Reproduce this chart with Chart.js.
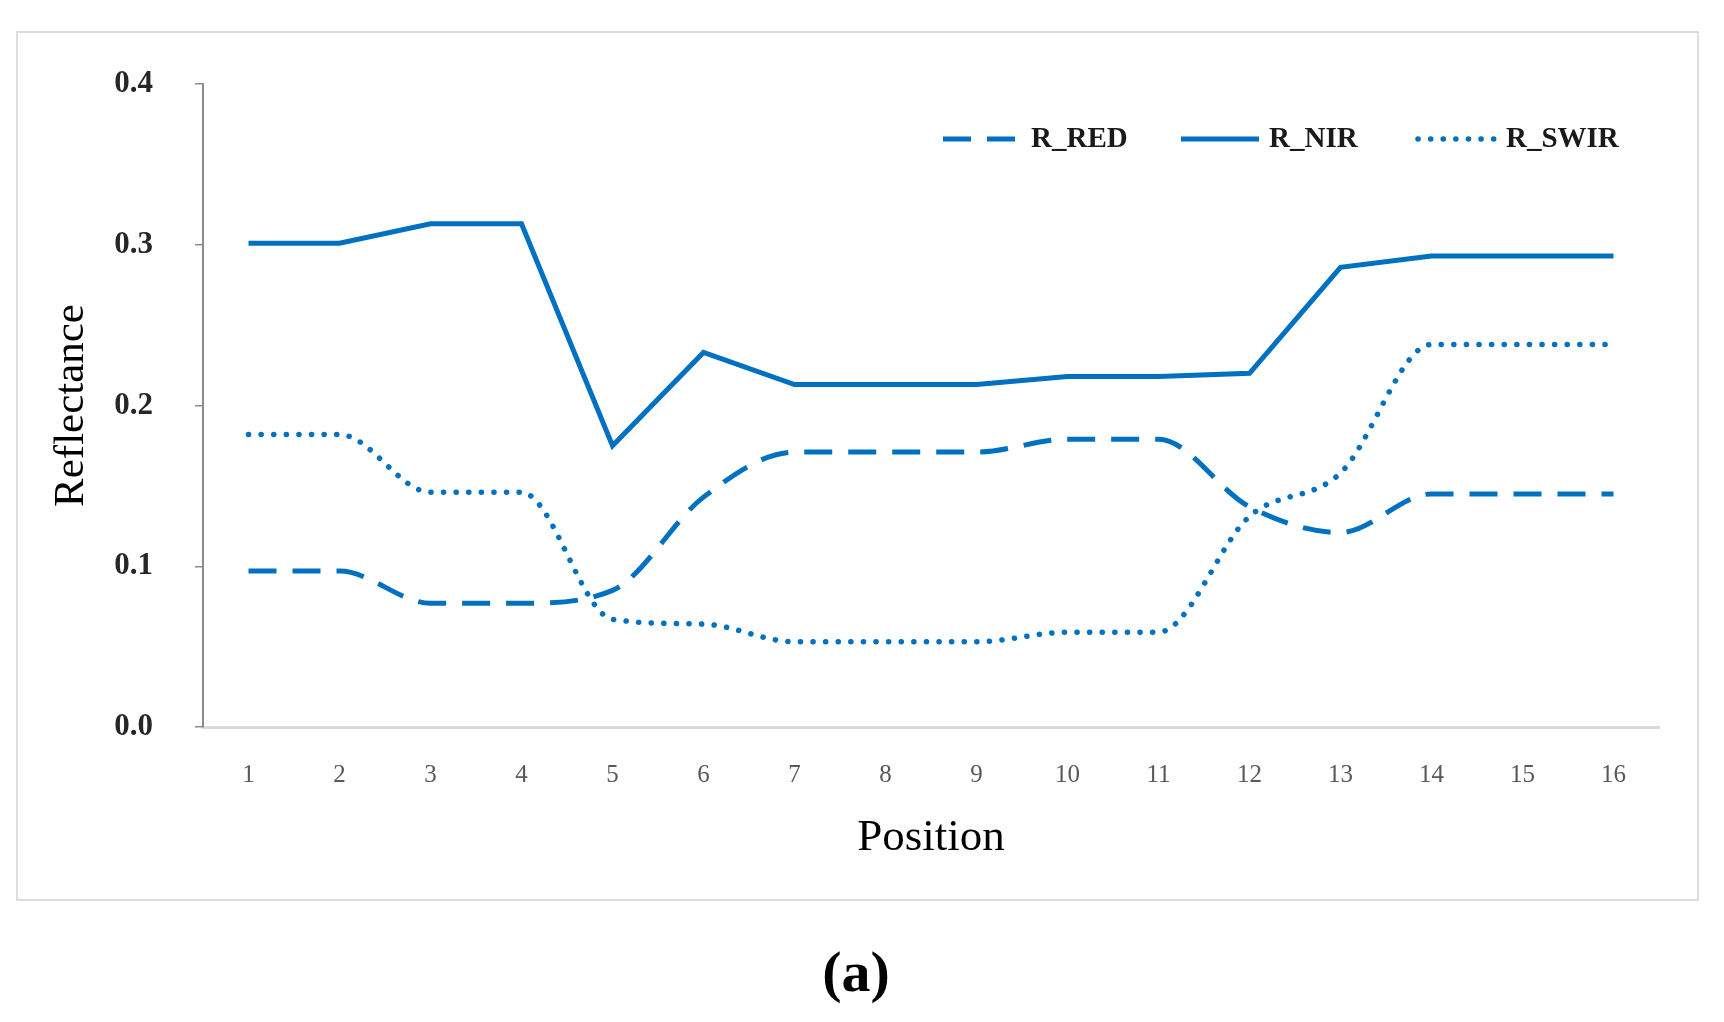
<!DOCTYPE html>
<html>
<head>
<meta charset="utf-8">
<script src="https://cdn.jsdelivr.net/npm/chart.js@4/dist/chart.umd.min.js"></script>
<style>
  body { margin: 0; background: #fff; width: 1724px; height: 1022px; position: relative; overflow: hidden; }
  #frame { position: absolute; left: 16px; top: 31px; width: 1679px; height: 866px; border: 2px solid #dedede; }
  #caption { position: absolute; left: 856px; top: 938px; font: bold 58px "Liberation Serif", serif; color: #000; transform: translateX(-50%); }
</style>
</head>
<body>
<div id="frame"><canvas id="chartLine"></canvas></div>
<div id="caption">(a)</div>
<script>
const positions = ["1", "2", "3", "4", "5", "6", "7", "8", "9", "10", "11", "12", "13", "14", "15", "16"];
const rRed  = [0.097, 0.097, 0.077, 0.077, 0.085, 0.143, 0.171, 0.171, 0.171, 0.179, 0.179, 0.137, 0.121, 0.145, 0.145, 0.145];
const rNir  = [0.301, 0.301, 0.313, 0.313, 0.175, 0.233, 0.213, 0.213, 0.213, 0.218, 0.218, 0.220, 0.286, 0.293, 0.293, 0.293];
const rSwir = [0.182, 0.182, 0.146, 0.146, 0.067, 0.064, 0.053, 0.053, 0.053, 0.059, 0.059, 0.131, 0.158, 0.238, 0.238, 0.238];

const blue = "rgb(0, 112, 192)";
const serif = "'Liberation Serif', 'Times New Roman', serif";

// legend drawn inside the plot, top right, like the Excel original
const inlineLegend = {
    id: "inlineLegend",
    afterDraw(chart) {
    const ctx = chart.ctx;
    const starts = [925, 1163, 1400];
    const y = 106;
    chart.data.datasets.forEach((ds, i) => {
        const x = starts[i];
        ctx.save();
        ctx.strokeStyle = ds.borderColor;
        ctx.lineWidth = ds.borderWidth;
        ctx.setLineDash(ds.borderDash || []);
        ctx.lineCap = ds.borderCapStyle || "butt";
        ctx.beginPath();
        ctx.moveTo(x, y);
        ctx.lineTo(x + 78, y);
        ctx.stroke();
        ctx.setLineDash([]);
        ctx.fillStyle = "#1a1a1a";
        ctx.font = "bold 29px " + serif;
        ctx.textBaseline = "middle";
        ctx.fillText(ds.label, x + 88, y + 1);
        ctx.restore();
    });
    },
};

const chartLine = new Chart("chartLine", {
    type: "line",
    data: {
    labels: positions,
    datasets: [
        {
        label: "R_RED",
        data: rRed,
        borderColor: blue,
        backgroundColor: blue,
        borderWidth: 5,
        borderDash: [28, 16],
        borderCapStyle: "butt",
        cubicInterpolationMode: "monotone",
        pointRadius: 0,
        },
        {
        label: "R_NIR",
        data: rNir,
        borderColor: blue,
        backgroundColor: blue,
        borderWidth: 5,
        tension: 0,
        pointRadius: 0,
        },
        {
        label: "R_SWIR",
        data: rSwir,
        borderColor: blue,
        backgroundColor: blue,
        borderWidth: 5.5,
        borderDash: [0.1, 12.5],
        borderCapStyle: "round",
        cubicInterpolationMode: "monotone",
        pointRadius: 0,
        },
    ],
    },
    options: {
    responsive: true,
    maintainAspectRatio: false,
    animation: false,
    layout: {
        padding: { left: 28, right: 38, top: 51, bottom: 34 },
    },
    plugins: {
        tooltip: { enabled: false },
        legend: { display: false },
    },
    scales: {
        x: {
        offset: true,
        grid: { display: false, drawTicks: false },
        border: { display: true, color: "#d9d9d9", width: 3 },
        ticks: {
            padding: 33,
            color: "#595959",
            font: { family: serif, size: 25 },
            maxRotation: 0,
        },
        title: {
            display: true,
            text: "Position",
            color: "#000",
            font: { family: serif, size: 45 },
            padding: { top: 0, bottom: 0 },
        },
        afterFit: (scale) => { scale.height = 138; },
        },
        y: {
        min: 0,
        max: 0.4,
        ticks: {
            stepSize: 0.1,
            padding: 42,
            color: "#262626",
            font: { family: serif, size: 31, weight: "bold" },
            callback: (v) => v.toFixed(1),
        },
        grid: { drawOnChartArea: false, color: "#8c8c8c", tickLength: 8, lineWidth: 1.5 },
        border: { color: "#8c8c8c", width: 2 },
        title: {
            display: true,
            text: "Reflectance",
            color: "#000",
            font: { family: serif, size: 43 },
            padding: { top: 0, bottom: 0 },
        },
        afterFit: (scale) => {
            scale.width = 157;
            scale.paddingTop = 0;
            scale.paddingBottom = 0;
        },
        },
    },
    },
    plugins: [inlineLegend],
});
</script>
</body>
</html>
